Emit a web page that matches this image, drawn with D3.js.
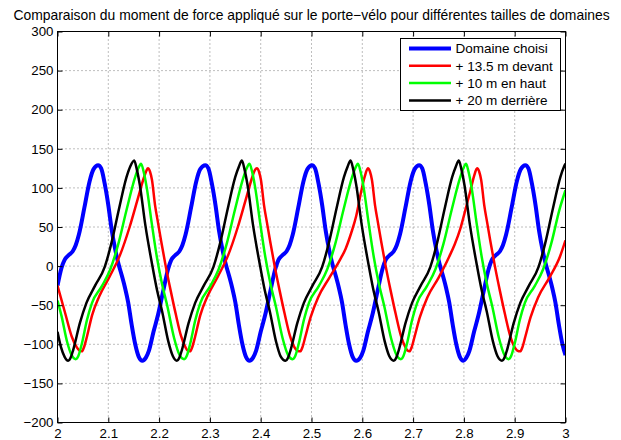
<!DOCTYPE html>
<html>
<head>
<meta charset="utf-8">
<script src="https://cdn.jsdelivr.net/npm/d3@7"></script>
<style>
  body { margin: 0; background: #fff; }
  text { font-family: "Liberation Sans", Arial, Helvetica, sans-serif; }
</style>
</head>
<body>
<svg id="chart" width="621" height="440"></svg>
<script>
// Torque on the bike rack (time in s, moment in N.m) for several domain sizes
const titleText = "Comparaison du moment de force appliqué sur le porte\u2212vélo pour différentes tailles de domaines";
const seriesNames = ["Domaine choisi", "+ 13.5 m devant", "+ 10 m en haut", "+ 20 m derrière"];
const seriesColors = ["#0000ff", "#ff0000", "#00ff00", "#000000"];
const xTicks = [2, 2.1, 2.2, 2.3, 2.4, 2.5, 2.6, 2.7, 2.8, 2.9, 3];
const yTicks = [-200, -150, -100, -50, 0, 50, 100, 150, 200, 250, 300];

const domaineChoisi = [
  [2.000,-25],[2.008,-2],[2.014,8],[2.022,14],[2.030,19],[2.036,27],[2.042,40],[2.053,75],[2.063,108],[2.071,124],[2.080,129],
  [2.086,125],[2.093,105],[2.100,78],[2.107,45],[2.114,20],[2.120,3],[2.127,-13],[2.133,-28],[2.139,-46],[2.146,-75],[2.153,-100],[2.160,-116],[2.167,-121],
  [2.174,-117],[2.180,-108],[2.189,-84],[2.198,-62],[2.208,-32],[2.218,-3],[2.224,8],[2.232,14],[2.240,19],[2.246,27],[2.252,40],[2.263,75],[2.273,108],[2.281,124],[2.291,129],
  [2.297,125],[2.304,105],[2.311,78],[2.318,45],[2.325,20],[2.331,3],[2.338,-13],[2.344,-28],[2.350,-46],[2.357,-75],[2.364,-100],[2.371,-116],[2.378,-121],
  [2.385,-117],[2.391,-108],[2.400,-84],[2.409,-62],[2.419,-32],[2.429,-3],[2.435,8],[2.443,14],[2.451,19],[2.457,27],[2.463,40],[2.474,75],[2.484,108],[2.492,124],[2.501,129],
  [2.507,125],[2.514,105],[2.521,78],[2.528,45],[2.535,20],[2.541,3],[2.548,-13],[2.554,-28],[2.560,-46],[2.567,-75],[2.574,-100],[2.581,-116],[2.588,-121],
  [2.596,-117],[2.602,-108],[2.611,-84],[2.620,-62],[2.630,-32],[2.640,-3],[2.646,8],[2.654,14],[2.662,19],[2.668,27],[2.674,40],[2.685,75],[2.695,108],[2.703,124],[2.712,129],
  [2.718,125],[2.725,105],[2.732,78],[2.739,45],[2.746,20],[2.752,3],[2.759,-13],[2.765,-28],[2.771,-46],[2.778,-75],[2.785,-100],[2.792,-116],[2.799,-121],
  [2.805,-117],[2.811,-108],[2.820,-84],[2.829,-62],[2.839,-32],[2.849,-3],[2.855,8],[2.863,14],[2.871,19],[2.877,27],[2.883,40],[2.894,75],[2.904,108],[2.912,124],[2.921,129],
  [2.927,125],[2.934,105],[2.941,78],[2.948,45],[2.955,20],[2.961,3],[2.968,-13],[2.974,-28],[2.980,-46],[2.987,-75],[2.994,-100],[3.000,-114]
];

const devant = [
  [2.000,-25],[2.015,-60],[2.028,-90],[2.038,-104],[2.043,-108],[2.048,-109],
  [2.052,-104],[2.058,-90],[2.068,-63],[2.082,-39],[2.103,-13],[2.123,14],[2.142,50],[2.158,86],[2.170,113],[2.175,122],[2.178,125],
  [2.182,121],[2.186,110],[2.192,78],[2.198,55],[2.204,32],[2.213,0],[2.223,-32],[2.233,-62],[2.243,-89],[2.252,-104],[2.256,-108],[2.261,-109],
  [2.265,-104],[2.271,-90],[2.281,-63],[2.295,-39],[2.316,-13],[2.336,14],[2.355,50],[2.371,86],[2.383,113],[2.388,122],[2.3925,125],
  [2.3965,121],[2.4005,110],[2.4065,78],[2.4125,55],[2.4185,32],[2.4275,0],[2.4375,-32],[2.4475,-62],[2.4575,-89],[2.4665,-104],[2.4715,-108],[2.478,-109],
  [2.482,-104],[2.488,-90],[2.498,-66],[2.513,-40],[2.535,-15],[2.556,8],[2.567,22],[2.578,42],[2.588,64],[2.598,96],[2.605,115],[2.611,125],
  [2.615,121],[2.619,110],[2.625,78],[2.631,55],[2.637,32],[2.646,0],[2.656,-32],[2.666,-62],[2.676,-89],[2.685,-104],[2.689,-108],[2.693,-109],
  [2.697,-104],[2.703,-90],[2.713,-66],[2.728,-40],[2.750,-15],[2.771,12],[2.782,28],[2.793,48],[2.803,72],[2.813,97],[2.820,115],[2.826,125],
  [2.830,121],[2.834,110],[2.840,78],[2.846,55],[2.852,32],[2.861,0],[2.871,-32],[2.881,-62],[2.891,-89],[2.900,-104],[2.905,-108],[2.911,-109],
  [2.915,-104],[2.921,-90],[2.931,-66],[2.946,-40],[2.968,-15],[2.989,12],[3.000,33]
];

const enHaut = [
  [2.000,-44],[2.008,-64],[2.019,-97],[2.028,-114],[2.036,-119],
  [2.041,-115],[2.048,-99],[2.058,-69],[2.068,-47],[2.087,-26],[2.104,-4],[2.120,29],[2.136,72],[2.153,114],[2.159,125],[2.1645,131],
  [2.1695,121],[2.1755,101],[2.1855,55],[2.1955,12],[2.2055,-22],[2.2165,-52],[2.2295,-92],[2.2405,-114],[2.2493,-119],
  [2.2543,-115],[2.2613,-99],[2.2713,-69],[2.2813,-47],[2.3003,-26],[2.3173,-4],[2.3333,29],[2.3493,72],[2.3663,114],[2.3723,125],[2.378,131],
  [2.383,121],[2.389,101],[2.399,55],[2.409,12],[2.419,-22],[2.430,-52],[2.443,-92],[2.454,-114],[2.463,-119],
  [2.468,-115],[2.475,-99],[2.485,-69],[2.495,-47],[2.514,-26],[2.531,-4],[2.547,29],[2.563,72],[2.580,114],[2.586,125],[2.5915,131],
  [2.5965,121],[2.6025,101],[2.6125,55],[2.6225,12],[2.6325,-22],[2.6435,-52],[2.6565,-92],[2.6675,-114],[2.676,-119],
  [2.681,-115],[2.688,-99],[2.698,-69],[2.708,-47],[2.727,-26],[2.744,-4],[2.760,29],[2.776,72],[2.793,114],[2.799,125],[2.8043,131],
  [2.809,121],[2.815,101],[2.825,55],[2.835,12],[2.845,-22],[2.856,-52],[2.869,-92],[2.880,-114],[2.888,-119],
  [2.893,-115],[2.900,-99],[2.910,-69],[2.920,-47],[2.939,-26],[2.956,-4],[2.972,29],[2.988,72],[3.000,97]
];

const derriere = [
  [2.000,-84],[2.007,-104],[2.014,-116],[2.021,-121],
  [2.026,-117],[2.031,-107],[2.044,-73],[2.057,-47],[2.074,-25],[2.093,-1],[2.106,29],[2.122,76],[2.136,114],[2.143,127],[2.151,135],
  [2.156,124],[2.162,104],[2.173,52],[2.186,3],[2.196,-31],[2.206,-58],[2.218,-96],[2.227,-115],[2.235,-121],
  [2.240,-117],[2.245,-107],[2.258,-73],[2.271,-47],[2.288,-25],[2.307,-1],[2.320,29],[2.336,76],[2.350,114],[2.357,127],[2.363,135],
  [2.368,124],[2.374,104],[2.385,52],[2.398,3],[2.408,-31],[2.418,-58],[2.430,-96],[2.439,-115],[2.449,-121],
  [2.454,-117],[2.459,-107],[2.472,-73],[2.485,-47],[2.502,-25],[2.521,-1],[2.534,29],[2.550,76],[2.564,114],[2.571,127],[2.577,135],
  [2.582,124],[2.588,104],[2.599,52],[2.612,3],[2.622,-31],[2.632,-58],[2.644,-96],[2.653,-115],[2.662,-121],
  [2.667,-117],[2.672,-107],[2.685,-73],[2.698,-47],[2.715,-25],[2.734,-1],[2.747,29],[2.763,76],[2.777,114],[2.784,127],[2.790,135],
  [2.795,124],[2.801,104],[2.812,52],[2.825,3],[2.835,-31],[2.845,-58],[2.857,-96],[2.866,-115],[2.875,-121],
  [2.880,-117],[2.885,-107],[2.898,-73],[2.911,-47],[2.928,-25],[2.947,-1],[2.960,29],[2.976,76],[2.990,114],[2.997,127],[3.000,131]
];

const seriesData = [domaineChoisi, devant, enHaut, derriere];
const seriesWidths = [4, 2.5, 2.5, 2.5];

const svg = d3.select("#chart");
const plot = { left: 57.5, right: 565.5, top: 31.5, bottom: 422.5 };

const x = d3.scaleLinear().domain([2, 3]).range([plot.left, plot.right]);
const y = d3.scaleLinear().domain([-200, 300]).range([plot.bottom, plot.top]);

svg.append("rect").attr("width", 621).attr("height", 440).attr("fill", "#fff");

// Title
svg.append("text")
  .attr("x", (plot.left + plot.right) / 2)
  .attr("y", 20)
  .attr("text-anchor", "middle")
  .attr("font-size", "13.9px")
  .attr("fill", "#000")
  .text(titleText);

// Dotted grid
const grid = svg.append("g").attr("stroke", "#000").attr("stroke-width", 1)
  .attr("stroke-dasharray", "1,3").attr("opacity", 0.5);
grid.selectAll("line.vx").data(xTicks.slice(1, -1)).join("line")
  .attr("x1", d => x(d)).attr("x2", d => x(d))
  .attr("y1", plot.top).attr("y2", plot.bottom);
grid.selectAll("line.hy").data(yTicks.slice(1, -1)).join("line")
  .attr("x1", plot.left).attr("x2", plot.right)
  .attr("y1", d => y(d)).attr("y2", d => y(d));

// Curves
svg.append("clipPath").attr("id", "clip").append("rect")
  .attr("x", plot.left).attr("y", plot.top)
  .attr("width", plot.right - plot.left).attr("height", plot.bottom - plot.top);

const line = d3.line().x(d => x(d[0])).y(d => y(d[1])).curve(d3.curveMonotoneX);
const curves = svg.append("g").attr("clip-path", "url(#clip)");
seriesData.forEach((s, i) => {
  curves.append("path").datum(s)
    .attr("d", line)
    .attr("fill", "none")
    .attr("stroke", seriesColors[i])
    .attr("stroke-width", seriesWidths[i])
    .attr("stroke-linejoin", "round");
});

// Axes with inward ticks on all four sides
const fmtX = d => String(+d.toFixed(1));
const fmtY = d3.format("d");

const axB = svg.append("g").attr("transform", `translate(0,${plot.bottom})`)
  .call(d3.axisBottom(x).tickValues(xTicks).tickSize(-5).tickPadding(6).tickFormat(fmtX));
const axT = svg.append("g").attr("transform", `translate(0,${plot.top})`)
  .call(d3.axisTop(x).tickValues(xTicks).tickSize(-5).tickFormat(""));
const axL = svg.append("g").attr("transform", `translate(${plot.left},0)`)
  .call(d3.axisLeft(y).tickValues(yTicks).tickSize(-5).tickPadding(4).tickFormat(fmtY));
const axR = svg.append("g").attr("transform", `translate(${plot.right},0)`)
  .call(d3.axisRight(y).tickValues(yTicks).tickSize(-5).tickFormat(""));

[axB, axT, axL, axR].forEach(g => {
  g.select(".domain").remove();
  g.selectAll("text").attr("font-size", "13.3px").attr("fill", "#000")
    .attr("font-family", "\"Liberation Sans\", Arial, Helvetica, sans-serif");
  g.selectAll("line").attr("stroke", "#000");
});

svg.append("rect")
  .attr("x", plot.left).attr("y", plot.top)
  .attr("width", plot.right - plot.left).attr("height", plot.bottom - plot.top)
  .attr("fill", "none").attr("stroke", "#000").attr("stroke-width", 1);

// Legend
const legend = svg.append("g");
legend.append("rect")
  .attr("x", 400.5).attr("y", 38.5).attr("width", 160).attr("height", 72)
  .attr("fill", "#fff").attr("stroke", "#000").attr("stroke-width", 1);
seriesNames.forEach((name, i) => {
  const ry = 48.5 + i * 17.3;
  legend.append("line")
    .attr("x1", 409).attr("x2", 451).attr("y1", ry).attr("y2", ry)
    .attr("stroke", seriesColors[i]).attr("stroke-width", seriesWidths[i]);
  legend.append("text")
    .attr("x", 455.5).attr("y", ry).attr("dy", "0.35em")
    .attr("font-size", "13.5px").attr("fill", "#000")
    .text(name);
});
</script>
</body>
</html>
